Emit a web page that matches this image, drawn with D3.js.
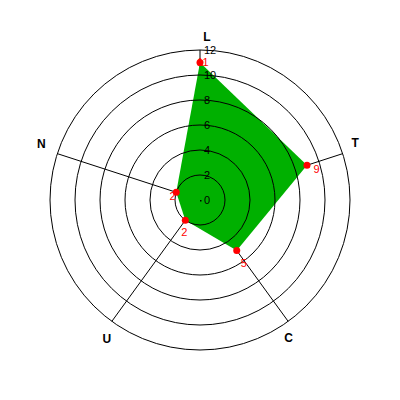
<!DOCTYPE html>
<html>
<head>
<meta charset="utf-8">
<script src="https://cdn.jsdelivr.net/npm/d3@7"></script>
<style>
  html, body { margin: 0; padding: 0; background: #fff; }
  svg { display: block; }
  text { font-family: "Liberation Sans", Arial, sans-serif; }
</style>
</head>
<body>
<div id="chart"></div>
<script>
// ---- data ----
const categories = ["L", "T", "C", "U", "N"];
const values = [11, 9, 5, 2, 2];
const tickValues = [0, 2, 4, 6, 8, 10, 12];
const tickLabels = ["0", "2", "4", "6", "8", "10", "12"];

// ---- layout ----
const W = 400, H = 400, cx = 200, cy = 200, R = 150;
const labelNudge = { L: [7, -13], T: [12.5, -10.5], C: [0.5, 16.5], U: [-5, 17.5], N: [-16, -9.5] };

const svg = d3.select("#chart").append("svg").attr("width", W).attr("height", H);
const r = d3.scaleLinear().domain([0, 12]).range([0, R]);
const ang = d3.scaleLinear().domain([0, categories.length]).range([0, 2 * Math.PI]);
const pt = (i, v) => [cx + r(v) * Math.sin(ang(i)), cy - r(v) * Math.cos(ang(i))];

// axes (under polygon)
svg.append("g").selectAll("line").data(categories).join("line")
  .attr("x1", cx).attr("y1", cy)
  .attr("x2", (d, i) => pt(i, 12)[0]).attr("y2", (d, i) => pt(i, 12)[1])
  .attr("stroke", "#000").attr("stroke-width", 1);

// polygon
svg.append("path")
  .attr("d", d3.line()(values.map((v, i) => pt(i, v))) + "Z")
  .attr("fill", "#00b000").attr("stroke", "none");

// circles
svg.append("g").selectAll("circle").data(tickValues.filter(t => t > 0)).join("circle")
  .attr("cx", cx).attr("cy", cy).attr("r", d => r(d))
  .attr("fill", "none").attr("stroke", "#000").attr("stroke-width", 1);

// center dot
svg.append("rect").attr("x", cx).attr("y", cy).attr("width", 1.5).attr("height", 1.5).attr("fill", "#000");

// tick labels
svg.append("g").selectAll("text").data(tickValues).join("text")
  .attr("x", cx + 4).attr("y", d => cy - r(d)).attr("dy", "0.35em")
  .attr("font-size", 11).attr("fill", "#000")
  .text((d, i) => tickLabels[i]);

// axis labels
svg.append("g").selectAll("text").data(categories).join("text")
  .attr("x", (d, i) => pt(i, 12)[0] + labelNudge[d][0])
  .attr("y", (d, i) => pt(i, 12)[1] + labelNudge[d][1])
  .attr("dy", "0.35em").attr("text-anchor", "middle")
  .attr("font-size", 12).attr("font-weight", "bold").attr("fill", "#000")
  .text(d => d);

// points
svg.append("g").selectAll("circle").data(values).join("circle")
  .attr("cx", (d, i) => pt(i, d)[0]).attr("cy", (d, i) => pt(i, d)[1])
  .attr("r", 3.5).attr("fill", "#ff0000");

// value labels
svg.append("g").selectAll("text").data(values).join("text")
  .attr("x", (d, i) => pt(i, d)[0] + 7 * Math.sin(ang(i)) + 3)
  .attr("y", (d, i) => pt(i, d)[1] - 7 * Math.cos(ang(i)) + 6.5)
  .attr("dy", "0.35em").attr("text-anchor", "middle")
  .attr("font-size", 11).attr("fill", "#ff0000")
  .text(d => d);
</script>
</body>
</html>
